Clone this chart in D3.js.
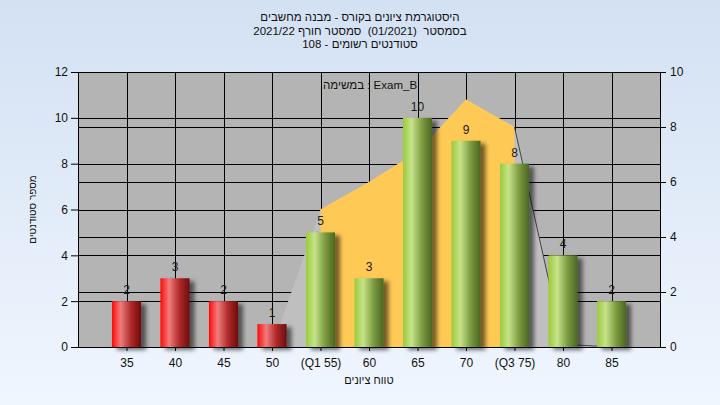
<!DOCTYPE html>
<html><head><meta charset="utf-8">
<script src="https://cdn.jsdelivr.net/npm/d3@7"></script>
<style>body{margin:0;padding:0;overflow:hidden}svg{display:block}text{font-family:"Liberation Sans",Arial,sans-serif;white-space:pre}</style>
</head><body>
<svg id="c" width="720" height="405"></svg>
<script>
const categories = ["35","40","45","50","(Q1 55)","60","65","70","(Q3 75)","80","85"];
const counts = [2,3,2,1,5,3,10,9,8,4,2];
const barGroup = ["fail","fail","fail","fail","pass","pass","pass","pass","pass","pass","pass"];
const distValues = [null,null,null,0,5,6,7.1,9,8,0.1,0];
const iqrRange = ["(Q1 55)","(Q3 75)"];
const leftTicks = [0,2,4,6,8,10,12];
const rightTicks = [0,2,4,6,8,10];
const titleLines = ["היסטוגרמת ציונים בקורס - מבנה מחשבים","בסמסטר  (01/2021)  סמסטר חורף 2021/22","סטודנטים רשומים - 108"];
const legendText = "במשימה : Exam_B";
const xTitle = "טווח ציונים";
const yTitle = "מספר סטודנטים";

const svg = d3.select("#c");
const W = 720, H = 405;
const m = {l:78, r:660, t:72, b:347};
const defs = svg.append("defs");
const bg = defs.append("linearGradient").attr("id","bg").attr("x1",0).attr("y1",0).attr("x2",0).attr("y2",1);
bg.append("stop").attr("offset","0%").attr("stop-color","#d3e1f3");
bg.append("stop").attr("offset","100%").attr("stop-color","#f0f6fe");
function cyl(id, stops){
  const g = defs.append("linearGradient").attr("id",id).attr("x1",0).attr("y1",0).attr("x2",1).attr("y2",0);
  stops.forEach(s=>g.append("stop").attr("offset",s[0]).attr("stop-color",s[1]));
}
cyl("red",[["0%","#ff0a0a"],["30%","#f07c7c"],["65%","#b02a2a"],["100%","#6e0c0c"]]);
cyl("green",[["0%","#9acb3a"],["30%","#c6e38a"],["65%","#7e9c42"],["100%","#4a6620"]]);
const f = defs.append("filter").attr("id","sh").attr("x","-30%").attr("y","-30%").attr("width","170%").attr("height","170%");
f.append("feDropShadow").attr("dx",5).attr("dy",3).attr("stdDeviation",2.2).attr("flood-color","#000").attr("flood-opacity",0.55);

svg.append("rect").attr("width",W).attr("height",H).attr("fill","url(#bg)");

const x = d3.scalePoint().domain(categories).range([m.l,m.r]).padding(1);
const yL = d3.scaleLinear().domain([0,12]).range([m.b,m.t]);
const yR = d3.scaleLinear().domain([0,10]).range([m.b,m.t]);
const bw = x.step()*0.6;

svg.append("rect").attr("x",m.l).attr("y",m.t).attr("width",m.r-m.l).attr("height",m.b-m.t).attr("fill","#b4b4b4");

// gridlines
const grid = svg.append("g").attr("stroke","#000").attr("stroke-width",1).attr("shape-rendering","crispEdges");
grid.selectAll(".gl").data(leftTicks).join("line").attr("x1",m.l).attr("x2",m.r)
  .attr("y1",d=>Math.round(yL(d))+0.5).attr("y2",d=>Math.round(yL(d))+0.5);
grid.selectAll(".gr").data(rightTicks).join("line").attr("x1",m.l).attr("x2",m.r)
  .attr("y1",d=>Math.round(yR(d))+0.5).attr("y2",d=>Math.round(yR(d))+0.5);
grid.selectAll(".gv").data(categories).join("line").attr("y1",m.t).attr("y2",m.b)
  .attr("x1",d=>Math.round(x(d))+0.5).attr("x2",d=>Math.round(x(d))+0.5);

// distribution area
const dist = categories.map((c,i)=>({c, v:distValues[i]}));
const area = d3.area().defined(d=>d.v!==null).x(d=>x(d.c)).y0(yR(0)).y1(d=>yR(d.v));
svg.append("path").datum(dist).attr("d",area).attr("fill","#bfbfbf");
const i0 = categories.indexOf(iqrRange[0]), i1 = categories.indexOf(iqrRange[1]);
svg.append("path").datum(dist.slice(i0,i1+1)).attr("d",area).attr("fill","#ffc955");
const line = d3.line().x(d=>x(d.c)).y(d=>yR(d.v));
svg.append("path").datum(dist.slice(i1)).attr("d",line).attr("fill","none").attr("stroke","#444").attr("stroke-width",1);

// axes
const axL = svg.append("g").attr("transform",`translate(${m.l},0)`)
  .call(d3.axisLeft(yL).tickValues(leftTicks).tickSize(7).tickPadding(3).tickFormat(d3.format("d")));
const axR = svg.append("g").attr("transform",`translate(${m.r},0)`)
  .call(d3.axisRight(yR).tickValues(rightTicks).tickSize(6).tickPadding(4).tickFormat(d3.format("d")));
const axB = svg.append("g").attr("transform",`translate(0,${m.b})`)
  .call(d3.axisBottom(x).tickSize(4).tickPadding(7));
[axL,axR,axB].forEach(a=>{
  a.select(".domain").attr("stroke","#000");
  a.selectAll(".tick line").attr("stroke","#000");
  a.selectAll("text").attr("font-size",12).attr("fill","#111").attr("font-family","Liberation Sans, Arial, sans-serif");
});
axB.select(".domain").remove();

// bars
const bars = svg.append("g");
bars.selectAll("rect").data(categories).join("rect")
  .attr("x",d=>x(d)-bw/2).attr("width",bw)
  .attr("y",(d,i)=>yL(counts[i])).attr("height",(d,i)=>yL(0)-yL(counts[i]))
  .attr("fill",(d,i)=>barGroup[i]==="fail"?"url(#red)":"url(#green)")
  .attr("filter","url(#sh)");
svg.append("line").attr("x1",m.l).attr("x2",m.r).attr("y1",m.b+0.5).attr("y2",m.b+0.5).attr("stroke","#000");

svg.append("g").selectAll("text").data(categories).join("text")
  .attr("x",d=>x(d)).attr("y",(d,i)=>yL(counts[i])-7)
  .attr("text-anchor","middle").attr("font-size",12).attr("fill","#1a1a1a")
  .text((d,i)=>counts[i]);

// titles
svg.append("g").selectAll("text").data(titleLines).join("text")
  .attr("x",360).attr("y",(d,i)=>21+i*13.5).attr("text-anchor","middle")
  .attr("direction","rtl").attr("font-size",11.5).attr("fill","#111").text(d=>d);
svg.append("text").attr("x",323).attr("y",89).attr("font-size",11.5).attr("fill","#111").text(legendText);
svg.append("text").attr("x",(m.l+m.r)/2).attr("y",384).attr("text-anchor","middle").attr("direction","rtl")
  .attr("font-size",11).attr("fill","#111").text(xTitle);
svg.append("text").attr("transform",`translate(36,${(m.t+m.b)/2}) rotate(-90)`).attr("text-anchor","middle")
  .attr("direction","rtl").attr("font-size",10).attr("fill","#111").text(yTitle);
</script>
</body></html>
